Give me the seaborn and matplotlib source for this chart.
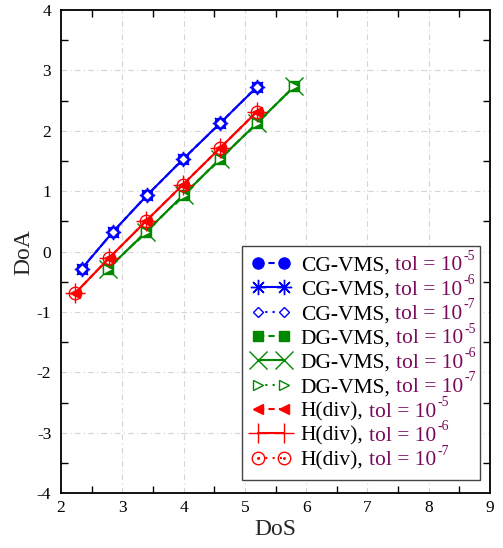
import matplotlib
matplotlib.use("Agg")
import numpy as np
import pandas as pd
import seaborn as sns
import matplotlib.pyplot as plt
from matplotlib.path import Path
from matplotlib.ticker import MultipleLocator

# ---------------- data ----------------
cg_x = [2.34, 2.85, 3.41, 3.99, 4.60, 5.19]
cg_y = [-0.28, 0.33, 0.94, 1.53, 2.13, 2.72]
dg_x = [2.77, 3.39, 4.00, 4.59, 5.20, 5.81]
dg_y = [-0.28, 0.33, 0.94, 1.53, 2.13, 2.74]
hdiv_x = [2.23, 2.79, 3.39, 3.99, 4.59, 5.19]
hdiv_y = [-0.69, -0.10, 0.51, 1.11, 1.71, 2.31]
methods = ["CG-VMS", "DG-VMS", "H(div)"]
tol_exps = ["-5", "-6", "-7"]
x_ticks = [2, 3, 4, 5, 6, 7, 8, 9]
y_ticks = [-4, -3, -2, -1, 0, 1, 2, 3, 4]

# ---------------- style ----------------
sns.set_theme(style="white")
plt.rcParams["font.family"] = ["Liberation Serif", "DejaVu Serif"]
plt.rcParams["axes.unicode_minus"] = False

# circle-with-dot marker
circ = Path.unit_circle()
dot = Path(circ.vertices * 0.12, circ.codes)
odot = Path.make_compound_path(circ, dot)

BLUE, GREEN, RED = "#0000ff", "#008800", "#ff0000"
TOLC = "#7a0a5a"

styles = {
    "CG-VMS": [
        dict(marker="o", markersize=8, markerfacecolor=BLUE, linestyle=(0, (3, 2)), mew=1.0),
        dict(marker=(8, 2, 0), markersize=11, markerfacecolor=BLUE, linestyle="-", mew=1.0),
        dict(marker="D", markersize=5.5, markerfacecolor="white", linestyle=(0, (1, 2.5)), mew=1.0),
    ],
    "DG-VMS": [
        dict(marker="s", markersize=6.5, markerfacecolor=GREEN, linestyle=(0, (3, 2)), mew=1.0),
        dict(marker="x", markersize=13, markerfacecolor=GREEN, linestyle="-", mew=1.0),
        dict(marker=">", markersize=6.5, markerfacecolor="white", linestyle=(0, (1, 2.5)), mew=1.0),
    ],
    "H(div)": [
        dict(marker="<", markersize=7, markerfacecolor=RED, linestyle=(0, (3, 2)), mew=1.0),
        dict(marker="+", markersize=15, markerfacecolor=RED, linestyle="-", mew=1.0),
        dict(marker=odot, markersize=9, markerfacecolor="none", linestyle=(0, (1, 2.5)), mew=1.0),
    ],
}
colors = {"CG-VMS": BLUE, "DG-VMS": GREEN, "H(div)": RED}
data = {"CG-VMS": (cg_x, cg_y), "DG-VMS": (dg_x, dg_y), "H(div)": (hdiv_x, hdiv_y)}

fig = plt.figure(figsize=(5.03, 5.48), dpi=100)
ax = fig.add_axes([61 / 503, 1 - 493.3 / 548, 429 / 503, 483.3 / 548])

entries = []
for m in methods:
    xs, ys = data[m]
    for st, e in zip(styles[m], tol_exps):
        lab = f"{m}, tol = 10-"
        sns.lineplot(x=xs, y=ys, ax=ax, sort=False, estimator=None,
                     color=colors[m], marker=st["marker"], markersize=st["markersize"],
                     markerfacecolor=st["markerfacecolor"], markeredgecolor=colors[m],
                     markeredgewidth=st["mew"], linestyle=st["linestyle"],
                     linewidth=1.5, label=lab)
        entries.append((m, e))

ax.set_xlim(2, 9)
ax.set_ylim(-4, 4)
ax.set_xticks(x_ticks)
ax.set_yticks(y_ticks)
ax.xaxis.set_minor_locator(MultipleLocator(0.5))
ax.yaxis.set_minor_locator(MultipleLocator(0.5))
ax.tick_params(which="major", length=0, labelsize=12.5, colors="black")
ax.tick_params(axis="x", which="major", pad=5)
ax.tick_params(axis="y", which="major", pad=7)
ax.tick_params(which="minor", direction="in", length=5, width=1,
               top=True, right=True, bottom=True, left=True, color="black")
ax.grid(True, which="major", color="#d4d4d4", linestyle=(0, (5, 3, 1, 3)), linewidth=0.8)
ax.set_axisbelow(True)
for s in ax.spines.values():
    s.set_color("black")
    s.set_linewidth(1.3)
ax.set_xlabel("DoS", fontsize=17, labelpad=2)
ax.set_ylabel("DoA", fontsize=17, labelpad=2)

leg_fs = 15.5
leg = ax.legend(loc="lower right", bbox_to_anchor=(0.977, 0.0275), borderaxespad=0,
                numpoints=2, fontsize=leg_fs, frameon=True, fancybox=False,
                framealpha=1, edgecolor="#444444", handlelength=1.8,
                handletextpad=0.5, labelspacing=0.2, borderpad=0.45)
leg.get_frame().set_linewidth(1.0)
for t in leg.get_texts():
    t.set_alpha(0)

fig.canvas.draw()
renderer = fig.canvas.get_renderer()
inv = fig.transFigure.inverted()
px_per_pt = fig.dpi / 72
gap = leg_fs * 0.25 * px_per_pt
for t, (m, e) in zip(leg.get_texts(), entries):
    px, py = t.get_transform().transform(t.get_position())
    bbt = t.get_window_extent(renderer)
    fx, fy = inv.transform((bbt.x0, py))
    t1 = fig.text(fx, fy, m + ",", fontsize=leg_fs, color="black", va="baseline", ha="left")
    bb = t1.get_window_extent(renderer)
    fx2, _ = inv.transform((bb.x1 + gap, py))
    t2 = fig.text(fx2, fy, "tol = 10", fontsize=leg_fs, color=TOLC, va="baseline", ha="left")
    bb2 = t2.get_window_extent(renderer)
    fx3, fy3 = inv.transform((bb2.x1 + 1, py + 0.5 * leg_fs * px_per_pt))
    fig.text(fx3, fy3, e, fontsize=leg_fs * 0.64, color=TOLC, va="baseline", ha="left")

fig.savefig("out.png", dpi=100)
